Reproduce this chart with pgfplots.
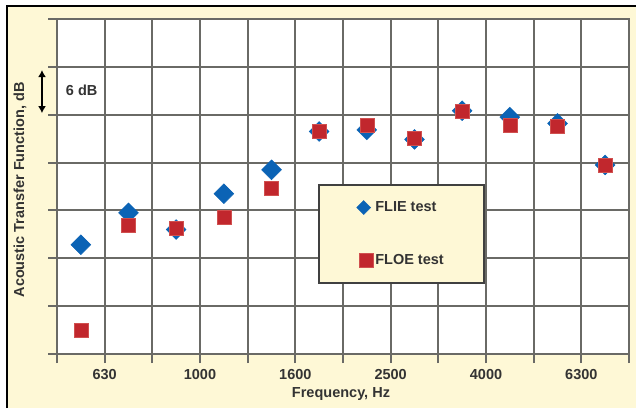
\documentclass[border=0pt]{standalone}
\usepackage{pgfplots}
\pgfplotsset{compat=1.18}
\usetikzlibrary{arrows.meta}
\usepackage{fontspec}
\setmainfont{Liberation Sans}
\definecolor{bgyellow}{HTML}{FEF8D6}
\definecolor{gridgray}{HTML}{6A6A66}
\definecolor{txtgray}{HTML}{333333}
\definecolor{fliecol}{HTML}{0B63B5}
\definecolor{floecol}{HTML}{C1272D}
\definecolor{floeedge}{HTML}{D0504F}
\begin{document}
\begin{tikzpicture}
\fill[white] (0pt,0pt) rectangle (636pt,408pt);
\fill[bgyellow] (7pt,0pt) rectangle (636pt,402pt);
\draw[black, line width=1.3pt] (7pt,0pt) -- (7pt,402pt) -- (636pt,402pt);
\begin{axis}[
  at={(57pt,54pt)}, anchor=south west,
  scale only axis, width=572pt, height=335pt,
  xmin=0, xmax=12, ymin=0, ymax=42,
  clip=false,
  axis background/.style={fill=white},
  xtick={0,1,...,12},
  xticklabels={,\mbox{630},,\mbox{1000},,\mbox{1600},,\mbox{2500},,\mbox{4000},,\mbox{6300},},
  ytick={0,6,...,42},
  yticklabels={},
  xtick pos=bottom, ytick pos=left,
  grid=major,
  grid style={gridgray, line width=1.9pt},
  axis line style={gridgray, line width=1.9pt},
  tick style={gridgray, line width=1.9pt},
  tick align=outside,
  major tick length=9pt,
  xticklabel style={font=\bfseries\fontsize{14.5}{17}\selectfont, text=txtgray, yshift=-3pt},
  xlabel={Frequency, Hz},
  ylabel={Acoustic Transfer Function, dB},
  label style={font=\bfseries\fontsize{14.5}{17}\selectfont, text=txtgray},
  xlabel style={at={(axis description cs:0.4965,-0.1194)}, anchor=center},
  ylabel style={at={(axis description cs:-0.0647,0.49)}, anchor=center},
  legend style={at={(0.4563,0.5075)}, anchor=north west,
    fill=bgyellow, draw=black!75, line width=1.6pt,
    inner xsep=38pt, inner ysep=15pt, row sep=37pt,
    font=\bfseries\fontsize{14.5}{17}\selectfont, text=txtgray},
  legend cell align=left,
]
\addplot[only marks, mark=square*, mark size=7pt,
  mark options={rotate=45, fill=fliecol, draw=fliecol, line width=0.5pt},
  legend image post style={scale=0.7}]
  coordinates {(0.5,13.7) (1.5,17.7) (2.5,15.6) (3.5,20.1) (4.5,23.1) (5.5,27.9)
               (6.5,28.1) (7.5,26.9) (8.5,30.5) (9.5,29.7) (10.5,28.9) (11.5,23.7)};
\addlegendentry{FLIE test}
\addplot[only marks, mark=square*, mark size=7pt,
  mark options={fill=floecol, draw=floeedge, line width=0.6pt}]
  coordinates {(0.5,3.0) (1.5,16.1) (2.5,15.8) (3.5,17.2) (4.5,20.8) (5.5,27.9)
               (6.5,28.7) (7.5,27.1) (8.5,30.4) (9.5,28.7) (10.5,28.5) (11.5,23.7)};
\addlegendentry{FLOE test}
\draw[black, line width=2pt, {Latex[length=7pt,width=8pt]}-{Latex[length=7pt,width=8pt]}]
  (axis cs:-0.315,35.6) -- (axis cs:-0.315,30.2);
\node[font=\bfseries\fontsize{14.5}{17}\selectfont, text=txtgray] at (axis cs:0.518,33.1) {6 dB};
\end{axis}
\pgfresetboundingbox
\useasboundingbox (0pt,0pt) rectangle (636pt,408pt);
\end{tikzpicture}
\end{document}
